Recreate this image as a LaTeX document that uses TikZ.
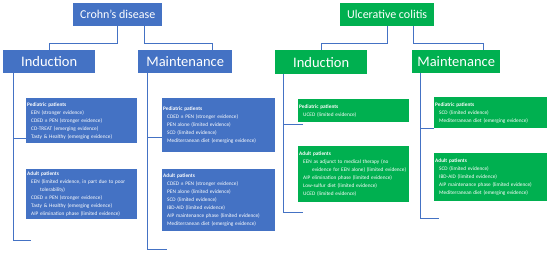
\documentclass[tikz,border=0pt]{standalone}
\usepackage{fontspec}
\setmainfont{Carlito}
\usetikzlibrary{positioning}
\definecolor{cdblue}{HTML}{4472C4}
\definecolor{ucgreen}{HTML}{00B050}
\newcommand{\itm}[1]{\\\hspace*{4pt}\mbox{#1}}
\newcommand{\cont}[1]{\\\hspace*{13pt}\mbox{#1}}
\tikzset{
  title/.style={rectangle, fill=#1, text=white, anchor=north west, inner sep=0pt,
    font=\fontsize{12}{14}\selectfont},
  phase/.style={rectangle, fill=#1, text=white, anchor=north west, inner sep=0pt,
    font=\fontsize{14.5}{16}\selectfont},
  info/.style={rectangle, fill=#1, text=white, anchor=north west, inner xsep=1pt,
    inner ysep=0pt, align=left, font=\fontsize{5.3}{8}\selectfont},
  box/.style 2 args={minimum width=#1, minimum height=#2},
  link/.style={draw=cdblue, line width=0.8pt},
}

\begin{document}
\begin{tikzpicture}[x=1pt, y=-1pt]
  \useasboundingbox (0,0) rectangle (550,254);

  % Crohn's disease
  \node[title=cdblue, box={89pt}{23pt}] (cd) at (73,3) {Crohn's disease};
  \node[phase=cdblue, box={92pt}{23pt}] (cdind) at (3,50) {Induction};
  \node[phase=cdblue, box={94pt}{23pt}] (cdmain) at (138,50) {Maintenance};
  \node[info=cdblue, text width=109pt, minimum height=45pt] (cdindped) at (26,98)
    {\textbf{Pediatric patients}\itm{EEN (stronger evidence)}\itm{CDED ± PEN (stronger evidence)}\itm{CD-TREAT (emerging evidence)}\itm{Tasty \& Healthy (emerging evidence)}};
  \node[info=cdblue, text width=109pt, minimum height=50pt] (cdindad) at (26,169)
    {\textbf{Adult patients}\itm{EEN (limited evidence, in part due to poor}\cont{tolerability)}\itm{CDED ± PEN (stronger evidence)}\itm{Tasty \& Healthy (emerging evidence)}\itm{AIP elimination phase (limited evidence)}};
  \node[info=cdblue, text width=111pt, minimum height=54pt] (cdmainped) at (162,98)
    {\textbf{Pediatric patients}\itm{CDED ± PEN (stronger evidence)}\itm{PEN alone (limited evidence)}\itm{SCD (limited evidence)}\itm{Mediterranean diet\ (emerging evidence)}};
  \node[info=cdblue, text width=111pt, minimum height=62pt] (cdmainad) at (162,169)
    {\textbf{Adult patients}\itm{CDED ± PEN (stronger evidence)}\itm{PEN alone\ (limited evidence)}\itm{SCD\ (limited evidence)}\itm{IBD-AID (limited evidence)}\itm{AIP maintenance phase (limited evidence)}\itm{Mediterranean diet\ (emerging evidence)}};

  % Ulcerative colitis
  \node[title=ucgreen, box={94pt}{23pt}] (uc) at (340,3) {Ulcerative colitis};
  \node[phase=ucgreen, box={92pt}{24pt}] (ucind) at (275,50) {Induction};
  \node[phase=ucgreen, box={88pt}{23pt}] (ucmain) at (412,50) {Maintenance};
  \node[info=ucgreen, text width=109pt, minimum height=23pt] (ucindped) at (298,99)
    {\textbf{Pediatric patients}\itm{UCED (limited evidence)}};
  \node[info=ucgreen, text width=109pt, minimum height=56pt] (ucindad) at (298,146)
    {\textbf{Adult patients}\itm{EEN as adjunct to medical therapy (no}\cont{evidence for EEN alone) (limited evidence)}\itm{AIP elimination phase (limited evidence)}\itm{Low-sulfur diet (limited evidence)}\itm{UCED (limited evidence)}};
  \node[info=ucgreen, text width=111pt, minimum height=31pt] (ucmainped) at (434,97)
    {\textbf{Pediatric patients}\itm{SCD (limited evidence)}\itm{Mediterranean diet\ (emerging evidence)}};
  \node[info=ucgreen, text width=111pt, minimum height=48pt] (ucmainad) at (434,153)
    {\textbf{Adult patients}\itm{SCD\ (limited evidence)}\itm{IBD-AID (limited evidence)}\itm{AIP maintenance phase (limited evidence)}\itm{Mediterranean diet\ (emerging evidence)}};

  % title to phase
  \draw[link] (cd.south) -- ++(0,17) -| (cdind.north);
  \draw[link] ([xshift=27pt]cd.south) -- ++(0,17) -| ([xshift=27pt]cdmain.north);
  \draw[link] (uc.south) -- ++(0,17) -| (ucind.north);
  \draw[link] ([xshift=26pt]uc.south) -- ++(0,17) -| ([xshift=27pt]ucmain.north);

  % phase stems
  \draw[link] ([xshift=10pt]cdind.south west) coordinate (cdindstem) -- ++(0,167) -- ++(18,0);
  \draw[link] ([yshift=5pt]cdindped.south west) coordinate (cdindjoin) -- (cdindjoin -| cdindstem);
  \draw[link] ([xshift=9pt]cdmain.south west) coordinate (cdmainstem) -- ++(0,176) -- ++(20,0);
  \draw[link] ([yshift=15pt]cdmainped.south west) coordinate (cdmainjoin) -- (cdmainjoin -| cdmainstem);
  \draw[link] ([xshift=8pt]ucind.south west) coordinate (ucindstem) -- ++(0,138) -- ++(20,0);
  \draw[link] ([xshift=5pt,yshift=-2pt]ucindped.south west) coordinate (ucindjoin) -- (ucindjoin -| ucindstem);
  \draw[link] ([xshift=8pt]ucmain.south west) coordinate (ucmainstem) -- ++(0,145) -- ++(19,0);
  \draw[link] ([yshift=-0.5pt]ucmainped.south west) coordinate (ucmainjoin) -- (ucmainjoin -| ucmainstem);
\end{tikzpicture}
\end{document}
